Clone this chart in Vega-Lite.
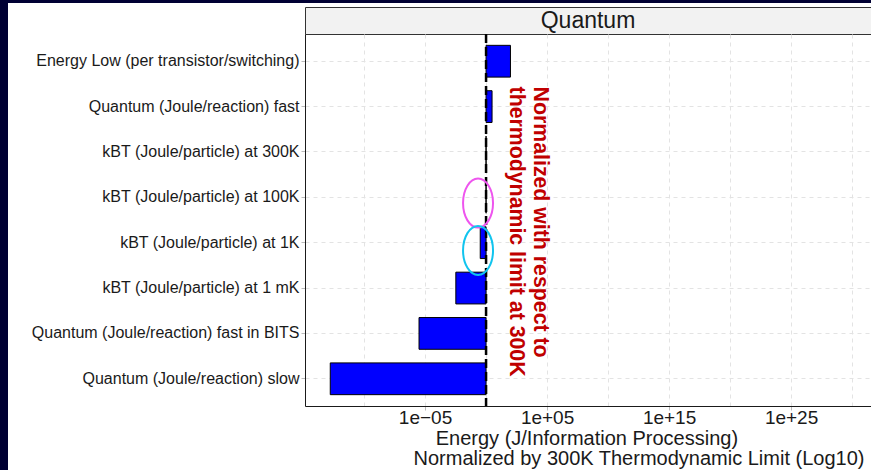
{
  "$schema": "https://vega.github.io/schema/vega-lite/v6.json",
  "background": "white",
  "padding": 0,
  "autosize": {"type": "pad"},
  "config": {"font": "Liberation Sans"},
  "spacing": 0,
  "bounds": "flush",
  "vconcat": [
    {
      "width": 871, "height": 3,
      "view": {"fill": "#000033", "stroke": null},
      "data": {"values": [{"t": 0}]},
      "mark": {"type": "point", "size": 0, "opacity": 0},
      "encoding": {}
    },
    {
      "spacing": 297,
      "bounds": "flush",
      "hconcat": [
        {
          "width": 8, "height": 467,
          "view": {"fill": "#000033", "stroke": null},
          "data": {"values": [{"t": 0}]},
          "mark": {"type": "point", "size": 0, "opacity": 0},
          "encoding": {}
        },
        {
          "spacing": 0,
          "bounds": "flush",
          "vconcat": [
            {
              "width": 566, "height": 4,
              "view": {"stroke": null},
              "data": {"values": [{"t": 0}]},
              "mark": {"type": "point", "size": 0, "opacity": 0},
              "encoding": {}
            },
            {
              "width": 566, "height": 27,
              "view": {"fill": "#F2F2F2", "stroke": "#333333", "strokeWidth": 1},
              "data": {"values": [{"label": "Quantum"}]},
              "mark": {"type": "text", "fontSize": 23, "color": "#1a1a1a", "baseline": "middle", "align": "center"},
              "encoding": {"text": {"field": "label"}}
            },
            {
              "width": 566, "height": 372,
              "view": {"stroke": null},
              "layer": [
                {
                  "data": {"values": [
                    {"category": "Energy Low (per transistor/switching)", "value": 100},
                    {"category": "Quantum (Joule/reaction) fast", "value": 3.1},
                    {"category": "kBT (Joule/particle) at 300K", "value": 1},
                    {"category": "kBT (Joule/particle) at 100K", "value": 1},
                    {"category": "kBT (Joule/particle) at 1K", "value": 0.333},
                    {"category": "kBT (Joule/particle) at 1 mK", "value": 0.00333},
                    {"category": "Quantum (Joule/reaction) fast in BITS", "value": 3.2e-6},
                    {"category": "Quantum (Joule/reaction) slow", "value": 1.7e-13}
                  ]},
                  "mark": {"type": "bar", "fill": "#0000FF", "stroke": "#000000", "strokeWidth": 1},
                  "encoding": {
                    "y": {
                      "field": "category", "type": "nominal",
                      "scale": {
                        "domain": [
                          "Energy Low (per transistor/switching)",
                          "Quantum (Joule/reaction) fast",
                          "kBT (Joule/particle) at 300K",
                          "kBT (Joule/particle) at 100K",
                          "kBT (Joule/particle) at 1K",
                          "kBT (Joule/particle) at 1 mK",
                          "Quantum (Joule/reaction) fast in BITS",
                          "Quantum (Joule/reaction) slow"
                        ],
                        "paddingInner": 0.3, "paddingOuter": 0.25
                      },
                      "axis": {
                        "title": null,
                        "labelFontSize": 16, "labelColor": "#1a1a1a", "labelLimit": 400,
                        "labelPadding": 2, "tickSize": 4, "tickColor": "#bbbbbb",
                        "domainColor": "#1a1a1a", "domainWidth": 1,
                        "grid": true, "gridColor": "#e3e3e3", "gridDash": [4, 4], "gridWidth": 1
                      }
                    },
                    "x": {
                      "field": "value", "type": "quantitative",
                      "scale": {"type": "log", "domain": [1.445e-15, 3.55e31], "nice": false},
                      "axis": {
                        "values": [1e-10, 1e-5, 1, 1e5, 1e10, 1e15, 1e20, 1e25, 1e30],
                        "labelExpr": "round(log(datum.value)/LN10) == -5 ? '1e−05' : round(log(datum.value)/LN10) == 5 ? '1e+05' : round(log(datum.value)/LN10) == 15 ? '1e+15' : round(log(datum.value)/LN10) == 25 ? '1e+25' : ''",
                        "labelOverlap": false, "labelFlush": false,
                        "labelFontSize": 19, "labelColor": "#1a1a1a", "labelPadding": -2,
                        "tickSize": 4, "tickColor": "#bbbbbb",
                        "tickOpacity": {"condition": {"test": "abs(round(log(datum.value)/LN10)) % 10 == 5", "value": 1}, "value": 0},
                        "domainColor": "#1a1a1a", "domainWidth": 1,
                        "grid": true, "gridColor": "#e3e3e3", "gridDash": [4, 4], "gridWidth": 1,
                        "title": ["\u200b\u00a0\u00a0\u00a0\u00a0Energy (J/Information Processing)", "Normalized by 300K Thermodynamic Limit (Log10)"],
                        "titleFontSize": 20, "titleFontWeight": "normal", "titleColor": "#1a1a1a",
                        "titleAlign": "left", "titleX": 108, "titlePadding": 1, "titleLineHeight": 20
                      }
                    },
                    "x2": {"datum": 1}
                  }
                },
                {
                  "data": {"values": [{"ref": 1}]},
                  "mark": {"type": "rule", "color": "#000000", "strokeWidth": 2.5, "strokeDash": [9, 4]},
                  "encoding": {"x": {"field": "ref", "type": "quantitative"}}
                },
                {
                  "data": {"values": [{"note": ["Normalized with respect to", "thermodynamic limit at 300K"]}]},
                  "mark": {"type": "text", "angle": 90, "align": "left", "baseline": "middle", "fontSize": 21.3, "fontWeight": "bold", "color": "#C00000", "lineHeight": 24, "dx": -20},
                  "encoding": {
                    "x": {"datum": 26900},
                    "y": {"datum": "Quantum (Joule/reaction) fast"},
                    "text": {"field": "note"}
                  }
                },
                {
                  "data": {"values": [{"ring": "a"}]},
                  "mark": {"type": "point", "shape": "M -0.612 0 A 0.612 1 0 1 0 0.612 0 A 0.612 1 0 1 0 -0.612 0 Z", "size": 2401, "filled": false, "stroke": "#EE55EE", "strokeWidth": 2, "opacity": 1},
                  "encoding": {
                    "x": {"datum": 0.22},
                    "y": {"datum": "kBT (Joule/particle) at 100K", "bandPosition": 0.68}
                  }
                },
                {
                  "data": {"values": [{"ring": "b"}]},
                  "mark": {"type": "point", "shape": "M -0.612 0 A 0.612 1 0 1 0 0.612 0 A 0.612 1 0 1 0 -0.612 0 Z", "size": 2401, "filled": false, "stroke": "#11C4EE", "strokeWidth": 2, "opacity": 1},
                  "encoding": {
                    "x": {"datum": 0.22},
                    "y": {"datum": "kBT (Joule/particle) at 1K", "bandPosition": 0.745}
                  }
                }
              ]
            }
          ]
        }
      ]
    }
  ]
}
